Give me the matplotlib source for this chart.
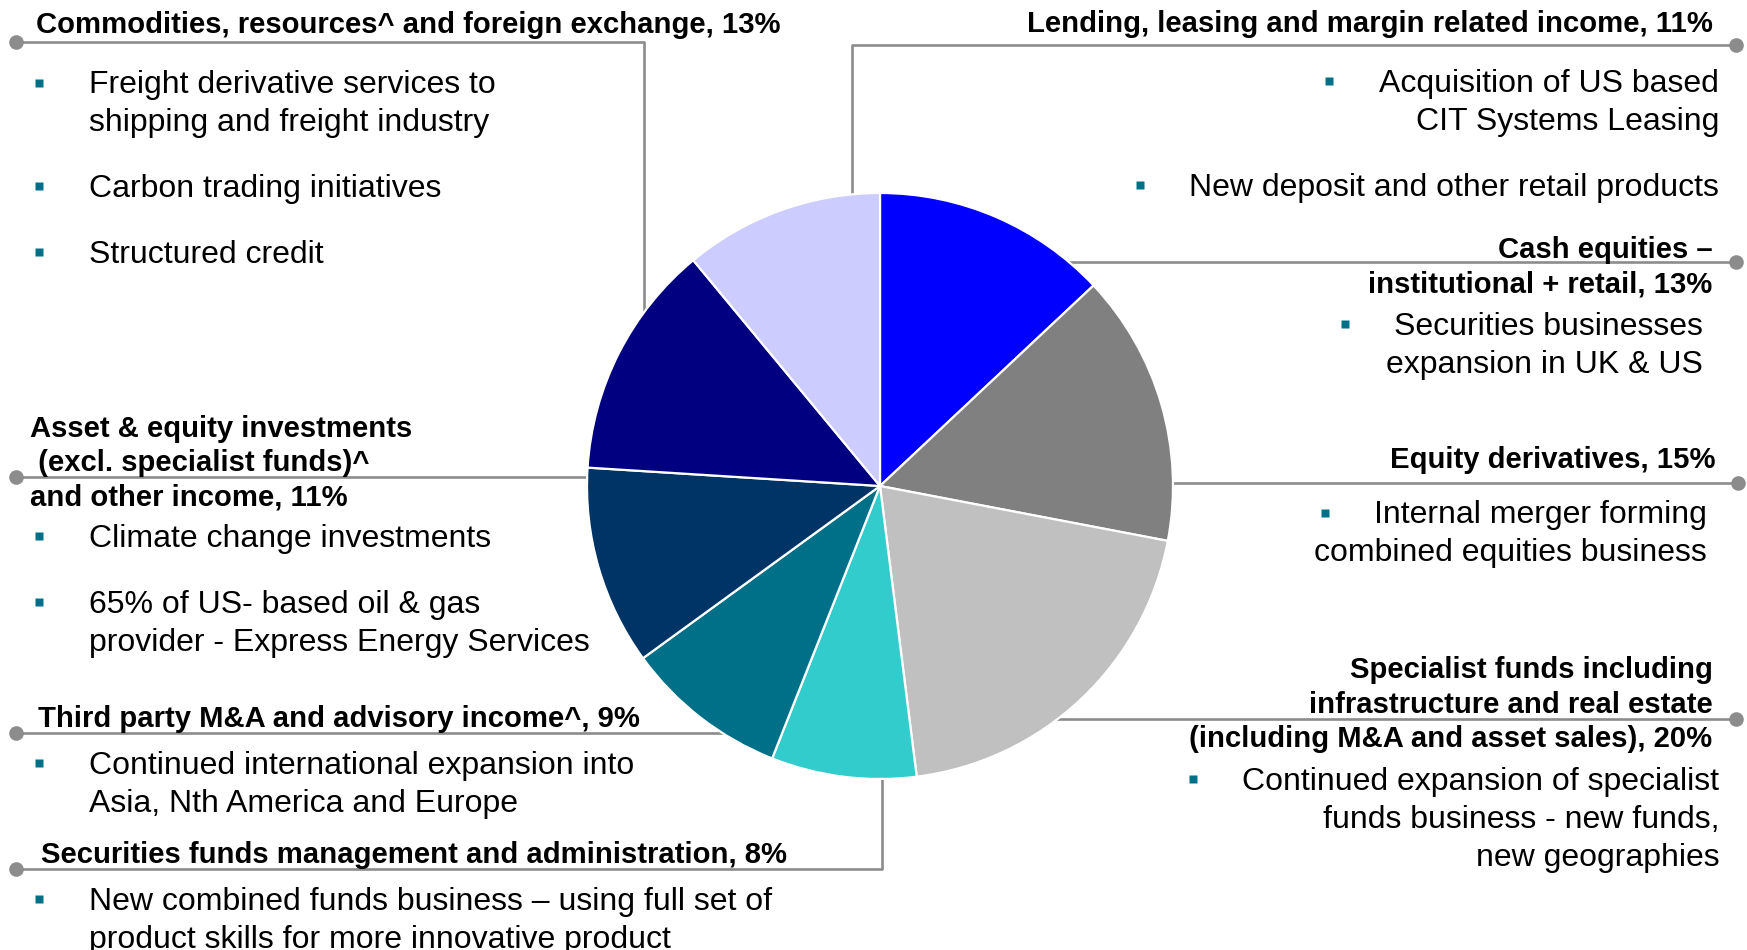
import matplotlib.pyplot as plt

plt.rcParams['font.family'] = ['Liberation Sans', 'DejaVu Sans']

W, H = 1747, 950

# income mix, slices listed clockwise from 12 o'clock
slice_names = ["Cash equities", "Equity derivatives", "Specialist funds",
               "Securities funds", "Third party M&A", "Asset & equity investments",
               "Commodities", "Lending"]
slice_values = [13, 15, 20, 8, 9, 11, 13, 11]
slice_colors = ["#0000FF", "#808080", "#C0C0C0", "#33CCCC",
                "#007088", "#003366", "#000080", "#CCCCFF"]

# left hand commentary
commod_title = ["Commodities, resources^ and foreign exchange, 13%"]
commod_points = [["Freight derivative services to", "shipping and freight industry"],
                 ["Carbon trading initiatives"],
                 ["Structured credit"]]
asset_title = ["Asset & equity investments", " (excl. specialist funds)^",
               "and other income, 11%"]
asset_points = [["Climate change investments"],
                ["65% of US- based oil & gas", "provider - Express Energy Services"]]
advisory_title = ["Third party M&A and advisory income^, 9%"]
advisory_points = [["Continued international expansion into",
                    "Asia, Nth America and Europe"]]
funds_title = ["Securities funds management and administration, 8%"]
funds_points = [["New combined funds business \u2013 using full set of",
                 "product skills for more innovative product"]]

# right hand commentary
lending_title = ["Lending, leasing and margin related income, 11%"]
lending_points = [["Acquisition of US based", "CIT Systems Leasing"],
                  ["New deposit and other retail products"]]
cash_title = ["Cash equities \u2013", "institutional + retail, 13%"]
cash_points = [["Securities businesses", "expansion in UK & US"]]
eqd_title = ["Equity derivatives, 15%"]
eqd_points = [["Internal merger forming", "combined equities business"]]
spec_title = ["Specialist funds including", "infrastructure and real estate",
              "(including M&A and asset sales), 20%"]
spec_points = [["Continued expansion of specialist", "funds business - new funds,",
                "new geographies"]]

CX, CY, R = 880, 486, 293
LINE_C = "#8C8C8C"
BULLET_C = "#007088"
TITLE_FS = 21.1
BODY_FS = 23.0
TITLE_STEP = 34.5
BODY_STEP = 37.9
DY = 3  # nudge so text centres sit on the x-height rather than the full box

fig = plt.figure(figsize=(W / 100, H / 100), dpi=100)
ax = fig.add_axes([0, 0, 1, 1])

# y axis runs top-down, so pie angles are mirrored: start at -90 going "counterclock"
ax.pie(slice_values, colors=slice_colors, center=(CX, CY), radius=R,
       startangle=-90, counterclock=True,
       wedgeprops=dict(edgecolor="white", linewidth=1.6, zorder=2))
ax.set_xlim(0, W)
ax.set_ylim(H, 0)
ax.set_aspect('auto')
ax.axis('off')


def leader(pts):
    xs = [p[0] for p in pts]
    ys = [p[1] for p in pts]
    ax.plot(xs, ys, color=LINE_C, lw=1.9, zorder=1, solid_capstyle='butt')
    ax.plot(xs[0], ys[0], 'o', ms=10.5, color=LINE_C, mec='none', zorder=3)


def title(lines, x, y, ha):
    for i, s in enumerate(lines):
        ax.text(x, y + DY + i * TITLE_STEP, s, ha=ha, va='center', fontsize=TITLE_FS,
                fontweight='bold', color='black', zorder=3)


def points(items, ys, text_x, bullet_xs, ha):
    for item, y, bx in zip(items, ys, bullet_xs):
        ax.plot(bx, y, 's', ms=6.4, color=BULLET_C, mec='none', zorder=3)
        for i, s in enumerate(item):
            ax.text(text_x, y + DY + i * BODY_STEP, s, ha=ha, va='center',
                    fontsize=BODY_FS, color='black', zorder=3)


# left side
leader([(15.6, 42.3), (644, 42.3), (644, CY)])
title(commod_title, 35.7, 22.3, 'left')
points(commod_points, [82.5, 186, 251.8], 89, [39, 39, 39], 'left')

leader([(15.6, 476.9), (CX, 476.9)])
title(asset_title, 30, 425.6, 'left')
points(asset_points, [535.9, 601.7], 89, [39, 39], 'left')

leader([(15.6, 733.1), (CX, 733.1)])
title(advisory_title, 37.9, 716.4, 'left')
points(advisory_points, [763.2], 89, [39], 'left')

leader([(15.6, 869.1), (882.4, 869.1), (882.4, CY)])
title(funds_title, 41.2, 852.4, 'left')
points(funds_points, [899.2], 89, [39], 'left')

# right side
leader([(1735.9, 44.6), (852.4, 44.6), (852.4, CY)])
title(lending_title, 1712.5, 21.2, 'right')
points(lending_points, [81.3, 185], 1719.2, [1329, 1139.8], 'right')

leader([(1735.9, 261.8), (CX, 261.8)])
title(cash_title, 1712.5, 247.4, 'right')
points(cash_points, [324.2], 1702.5, [1344.8], 'right')

leader([(1738, 482.5), (CX, 482.5)])
title(eqd_title, 1715.9, 456.8, 'right')
points(eqd_points, [512.5], 1707, [1324.8], 'right')

leader([(1735.9, 718.7), (CX, 718.7)])
title(spec_title, 1712.5, 667.4, 'right')
points(spec_points, [778.8], 1719.2, [1193.3], 'right')

fig.savefig("out.png", dpi=100, facecolor="white")
